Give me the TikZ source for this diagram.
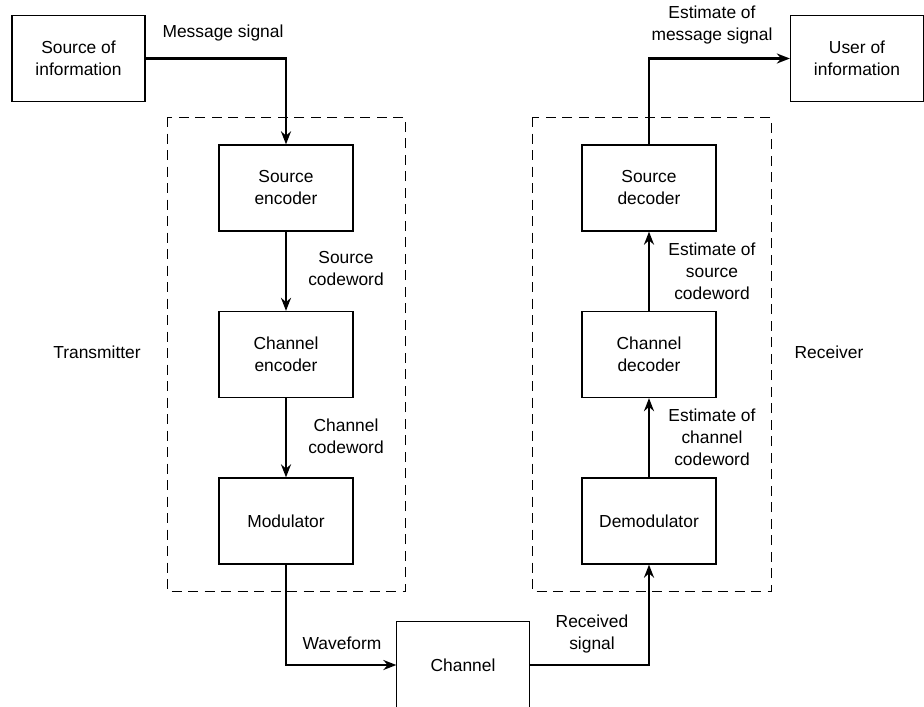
\documentclass[tikz,border=0pt]{standalone}
\usepackage{fontspec}
\setmainfont{Liberation Sans}
\usetikzlibrary{arrows.meta}
\usetikzlibrary{positioning}
\tikzset{
    block/.style={
        draw,
        line width=1.3pt,
        minimum width=134pt,
        minimum height=86pt,
        inner sep=0pt,
        align=center
    },
    signal/.style={
        line width=2.8pt,
        -{Stealth[length=13pt, width=10pt]}
    },
    groupbox/.style={
        line width=0.9pt,
        dash pattern=on 10pt off 6.5pt
    },
    tag/.style={inner sep=0pt, align=center}
}

\begin{document}
\begin{tikzpicture}[x=1pt, y=-1pt,
    every node/.style={font=\fontsize{17.4}{22}\selectfont}]
    \useasboundingbox (0,0) rectangle (924,707);

    % Blocks - source and user
    \node[block, minimum width=133pt] (src) at (78.5,58.5) {Source of\\information};
    \node[block, minimum width=133pt] (user) at (857,58.5) {User of\\information};

    % Transmitter
    \node[block] (senc) at (286,188) {Source\\encoder};
    \node[block] (cenc) at (286,354.5) {Channel\\encoder};
    \node[block] (mod) at (286,521) {Modulator};

    % Receiver
    \node[block] (sdec) at (649,188) {Source\\decoder};
    \node[block] (cdec) at (649,354.5) {Channel\\decoder};
    \node[block] (demod) at (649,521) {Demodulator};

    % Channel (open at the bottom)
    \node[block, draw=none, minimum width=132pt] (ch) at (463,665) {Channel};
    \draw[line width=1.3pt] (ch.south west) -- (ch.north west) -- (ch.north east) -- (ch.south east);

    % Dashed groups
    \draw[groupbox] (167,117) rectangle (405,591);
    \draw[groupbox] (532,117) rectangle (771,591);
    \node[tag] (tx) at (97,352) {Transmitter};
    \node[tag] (rx) at (829,352) {Receiver};

    % Signals
    \draw[signal] (src.east) -| (senc.north);
    \draw[signal] (senc) -- (cenc);
    \draw[signal] (cenc) -- (mod);
    \draw[signal] (mod.south) |- (ch.west);
    \draw[signal] (ch.east) -| (demod.south);
    \draw[signal] (demod) -- (cdec);
    \draw[signal] (cdec) -- (sdec);
    \draw[signal] (sdec.north) |- (user.west);

    % Labels
    \node[tag] (lmsg) at (223,33) {Message signal};
    \node[tag] (lsc) at (346,269) {Source\\codeword};
    \node[tag] (lcc) at (346,436) {Channel\\codeword};
    \node[tag] (lwave) at (342,643) {Waveform};
    \node[tag] (lrec) at (592,634) {Received\\signal};
    \node[tag] (lesc) at (712,271) {Estimate of\\source\\codeword};
    \node[tag] (lecc) at (712,437) {Estimate of\\channel\\codeword};
    \node[tag] (lemsg) at (712,25) {Estimate of\\message signal};
\end{tikzpicture}
\end{document}
